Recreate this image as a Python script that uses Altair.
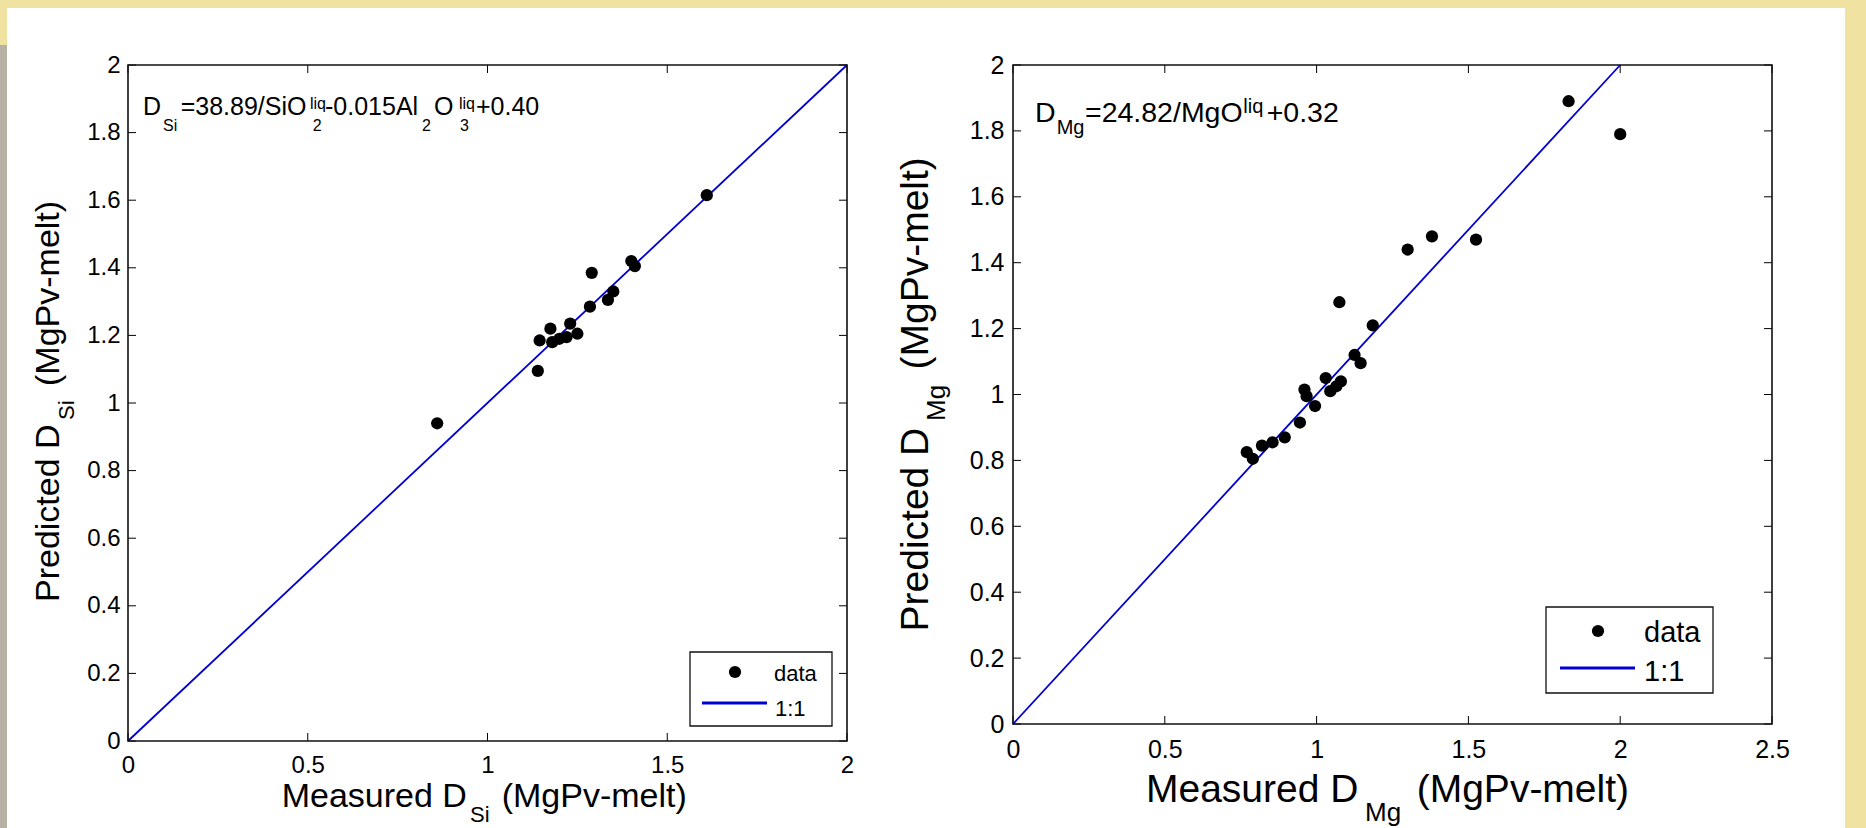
import altair as alt
import pandas as pd

# ---------------- data ----------------
SI_MEASURED = [0.86, 1.14, 1.145, 1.18, 1.175, 1.20, 1.22, 1.23, 1.25, 1.285, 1.29, 1.335, 1.35, 1.40, 1.41, 1.61]
SI_PREDICTED = [0.94, 1.095, 1.185, 1.18, 1.22, 1.19, 1.195, 1.235, 1.205, 1.285, 1.385, 1.305, 1.33, 1.42, 1.405, 1.615]

MG_MEASURED = [0.77, 0.79, 0.82, 0.855, 0.895, 0.945, 0.96, 0.967, 0.995, 1.03, 1.045, 1.065, 1.08,
               1.125, 1.145, 1.075, 1.185, 1.30, 1.38, 1.525, 1.83, 2.0]
MG_PREDICTED = [0.825, 0.805, 0.845, 0.855, 0.87, 0.915, 1.015, 0.995, 0.965, 1.05, 1.01, 1.025, 1.04,
                1.12, 1.095, 1.28, 1.21, 1.44, 1.48, 1.47, 1.89, 1.79]

ONE_TO_ONE = [0, 2]
SI_X_DOMAIN = [0, 2]
MG_X_DOMAIN = [0, 2.5]
Y_DOMAIN = [0, 2]
SI_X_TICKS = [0, 0.5, 1, 1.5, 2]
MG_X_TICKS = [0, 0.5, 1, 1.5, 2, 2.5]
Y_TICKS = [0, 0.2, 0.4, 0.6, 0.8, 1, 1.2, 1.4, 1.6, 1.8, 2]
LEGEND_LABELS = ["data", "1:1"]

SI_EQUATION = ["D", "Si", "=38.89/SiO", "liq", "2", "-0.015Al", "2", "O", "liq", "3", "+0.40"]
MG_EQUATION = ["D", "Mg", "=24.82/MgO", "liq", "+0.32"]
SI_X_TITLE = ["Measured D", "Si", "(MgPv-melt)"]
SI_Y_TITLE = ["Predicted D", "Si", "(MgPv-melt)"]
MG_X_TITLE = ["Measured D", "Mg", "(MgPv-melt)"]
MG_Y_TITLE = ["Predicted D", "Mg", "(MgPv-melt)"]

# ---------------- layout / style (page pixels) ----------------
FONT = "Liberation Sans, Arial, Helvetica, sans-serif"
BLUE = "#0000d0"
PAGE_W, PAGE_H = 1866, 828

SI_PANEL = dict(x0=128, y0=65, w=719, h=676, tick=8, label_size=24, xpad=12, ypad=8)
MG_PANEL = dict(x0=1013, y0=65, w=759, h=659, tick=8, label_size=25, xpad=13, ypad=9)

# (x, y, fontSize) for each text piece
SI_EQ_LAYOUT = [(143, 115, 25), (163, 131, 16), (180.7, 115, 25), (310, 109, 16), (312.7, 131, 16),
                (325, 115, 25), (422, 131, 16), (434, 115, 25), (459, 109, 16), (460, 131, 16),
                (476, 115, 25)]
MG_EQ_LAYOUT = [(1035, 121.7, 28.5), (1056.7, 133.5, 20), (1085, 121.7, 28.5), (1243.3, 113, 20),
                (1266.7, 121.7, 28.5)]
SI_XT_LAYOUT = [(281.7, 806.7, 34), (470, 821.7, 22), (501.7, 806.7, 34)]
MG_XT_LAYOUT = [(1146, 801.7, 39), (1365, 821, 26), (1416.7, 801.7, 39)]
SI_YT_LAYOUT = [(59, 602, 34), (74, 420, 22), (59, 386, 34)]
MG_YT_LAYOUT = [(928, 631.5, 39), (945, 421, 26), (928, 369.5, 39)]

SI_LEGEND = dict(box=(690, 652, 832, 726), pt=(735, 672), data_txt=(774, 681, 22),
                 line=(702, 767, 703), line_txt=(775, 715.5, 22))
MG_LEGEND = dict(box=(1546, 607, 1713, 693), pt=(1598, 631), data_txt=(1644, 642.3, 29),
                 line=(1560, 1635, 668), line_txt=(1644, 680.7, 29))

ONE = pd.DataFrame({"k": [0]})


def text_layer(p, s, x, y, size, angle=0):
    kw = dict(text=s, font=FONT, fontSize=size, color="black", align="left", baseline="alphabetic")
    if angle:
        kw["angle"] = angle
    return alt.Chart(ONE).mark_text(**kw).encode(
        x=alt.value(x - p["x0"]), y=alt.value(y - p["y0"]))


def rect_layer(p, x1, y1, x2, y2, **style):
    return alt.Chart(ONE).mark_rect(**style).encode(
        x=alt.value(x1 - p["x0"]), x2=alt.value(x2 - p["x0"]),
        y=alt.value(y1 - p["y0"]), y2=alt.value(y2 - p["y0"]))


def build_panel(p, measured, predicted, x_domain, x_ticks, eq_text, eq_layout,
                xt_text, xt_layout, yt_text, yt_layout, legend, backdrop=False):
    xs = alt.Scale(domain=x_domain, nice=False, zero=False)
    ys = alt.Scale(domain=Y_DOMAIN, nice=False, zero=False)
    common = dict(format="~g", title=None, domain=False, grid=False, ticks=False, tickSize=0,
                  labelFont=FONT, labelFontSize=p["label_size"], labelColor="black",
                  labelFlush=False, labelOverlap=False, labelBound=False, labelAngle=0, zindex=1)
    ax_x = alt.Axis(values=x_ticks, labelPadding=p["xpad"], **common)
    ax_y = alt.Axis(values=Y_TICKS, labelPadding=p["ypad"], **common)
    W, H, T = p["w"], p["h"], p["tick"]
    x0, y0 = p["x0"], p["y0"]

    layers = []
    if backdrop:
        layers.append(rect_layer(p, 0, 0, PAGE_W, PAGE_H, fill="#f0e2a0"))
        layers.append(rect_layer(p, 0, 45, 7, PAGE_H, fill="#b7b0a5"))
        layers.append(rect_layer(p, 7, 8, 1845, PAGE_H, fill="white"))

    # inward tick marks on all four sides
    tx = pd.DataFrame({"tx": x_ticks})
    ty = pd.DataFrame({"ty": Y_TICKS})
    for a, b in [(H, H - T), (0, T)]:
        layers.append(alt.Chart(tx).mark_rule(color="black", strokeWidth=1).encode(
            x=alt.X("tx:Q", scale=xs, axis=ax_x), y=alt.value(a), y2=alt.value(b)))
    for a, b in [(0, T), (W, W - T)]:
        layers.append(alt.Chart(ty).mark_rule(color="black", strokeWidth=1).encode(
            y=alt.Y("ty:Q", scale=ys, axis=ax_y), x=alt.value(a), x2=alt.value(b)))

    # 1:1 line
    layers.append(alt.Chart(pd.DataFrame({"lx": ONE_TO_ONE, "ly": ONE_TO_ONE}))
                  .mark_line(color=BLUE, strokeWidth=1.8)
                  .encode(x=alt.X("lx:Q", scale=xs, axis=ax_x), y=alt.Y("ly:Q", scale=ys, axis=ax_y)))
    # data points
    layers.append(alt.Chart(pd.DataFrame({"measured": measured, "predicted": predicted}))
                  .mark_circle(size=150, color="black", opacity=1)
                  .encode(x=alt.X("measured:Q", scale=xs, axis=ax_x),
                          y=alt.Y("predicted:Q", scale=ys, axis=ax_y)))

    # axes box
    layers.append(rect_layer(p, x0, y0, x0 + W, y0 + H, fillOpacity=0, stroke="#111111", strokeWidth=1.6))

    # legend
    bx1, by1, bx2, by2 = legend["box"]
    layers.append(rect_layer(p, bx1, by1, bx2, by2, fill="white", stroke="#111111", strokeWidth=1.3))
    px, py = legend["pt"]
    layers.append(alt.Chart(ONE).mark_circle(size=150, color="black", opacity=1).encode(
        x=alt.value(px - x0), y=alt.value(py - y0)))
    lx1, lx2, ly = legend["line"]
    layers.append(alt.Chart(ONE).mark_rule(color=BLUE, strokeWidth=2.8).encode(
        x=alt.value(lx1 - x0), x2=alt.value(lx2 - x0), y=alt.value(ly - y0)))
    dx, dy, ds = legend["data_txt"]
    layers.append(text_layer(p, LEGEND_LABELS[0], dx, dy, ds))
    lx, lyy, ls = legend["line_txt"]
    layers.append(text_layer(p, LEGEND_LABELS[1], lx, lyy, ls))

    # equation and axis titles (with sub/superscripts)
    for s, (x, y, size) in zip(eq_text, eq_layout):
        layers.append(text_layer(p, s, x, y, size))
    for s, (x, y, size) in zip(xt_text, xt_layout):
        layers.append(text_layer(p, s, x, y, size))
    for s, (x, y, size) in zip(yt_text, yt_layout):
        layers.append(text_layer(p, s, x, y, size, angle=270))

    return alt.layer(*layers).properties(width=W, height=H)


left = build_panel(SI_PANEL, SI_MEASURED, SI_PREDICTED, SI_X_DOMAIN, SI_X_TICKS,
                   SI_EQUATION, SI_EQ_LAYOUT, SI_X_TITLE, SI_XT_LAYOUT, SI_Y_TITLE, SI_YT_LAYOUT,
                   SI_LEGEND, backdrop=True)
right = build_panel(MG_PANEL, MG_MEASURED, MG_PREDICTED, MG_X_DOMAIN, MG_X_TICKS,
                    MG_EQUATION, MG_EQ_LAYOUT, MG_X_TITLE, MG_XT_LAYOUT, MG_Y_TITLE, MG_YT_LAYOUT,
                    MG_LEGEND)

chart = alt.hconcat(
    left, right,
    spacing=MG_PANEL["x0"] - SI_PANEL["x0"] - SI_PANEL["w"],
    bounds="flush",
).properties(padding=0, background="#f0e2a0").configure_view(stroke="transparent", strokeWidth=0)

chart.save("out.html", embed_options={"renderer": "svg", "actions": False})
